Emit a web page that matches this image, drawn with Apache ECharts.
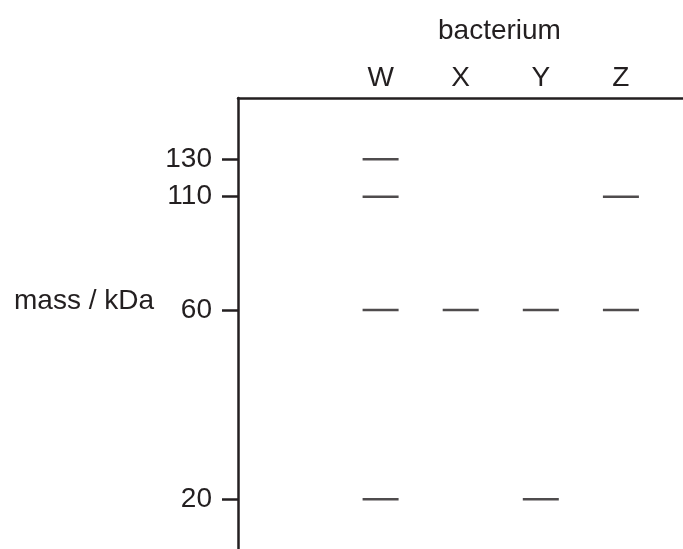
<!DOCTYPE html>
<html>
<head>
<meta charset="utf-8">
<script src="https://cdn.jsdelivr.net/npm/echarts@6/dist/echarts.min.js"></script>
<style>
html,body{margin:0;padding:0;background:#fff;}
#chart{width:683px;height:549px;}
</style>
</head>
<body>
<div id="chart"></div>
<script>
// Lanes (bacteria)
var lanes = ['W', 'X', 'Y', 'Z'];
// Marker masses (kDa) shown on the axis
var masses = [130, 110, 60, 20];
// Migration distance of each marker band from the top of the gel (arbitrary units)
var migration = [6.13, 9.87, 21.2, 40.13];
// Bands present in each lane (mass in kDa)
var bandsW = [130, 110, 60, 20];
var bandsX = [60];
var bandsY = [60, 20];
var bandsZ = [110, 60];
var gelLength = 45.1;

var laneBands = [bandsW, bandsX, bandsY, bandsZ];
var points = [];
laneBands.forEach(function (list, li) {
  list.forEach(function (m) {
    points.push([li + 1, migration[masses.indexOf(m)]]);
  });
});

var ink = '#231f20';
var font = 'Liberation Sans, Arial, Helvetica, sans-serif';

var chart = echarts.init(document.getElementById('chart'), null, {renderer: 'canvas'});
chart.setOption({
  animation: false,
  backgroundColor: '#fff',
  grid: {left: 238, right: 0, top: 98, bottom: 0, containLabel: false},
  xAxis: {
    type: 'value',
    position: 'top',
    min: -0.78,
    max: 4.775,
    splitLine: {show: false},
    axisLine: {show: true, onZero: false, lineStyle: {color: ink, width: 2.5}},
    axisTick: {show: false},
    axisLabel: {
      show: true,
      customValues: [1, 2, 3, 4],
      formatter: function (v) { return lanes[Math.round(v) - 1] || ''; },
      color: ink, fontSize: 28, fontFamily: font, margin: 6
    }
  },
  yAxis: {
    type: 'value',
    inverse: true,
    min: 0,
    max: gelLength,
    splitLine: {show: false},
    axisLine: {show: true, onZero: false, lineStyle: {color: ink, width: 2.5}},
    axisTick: {
      show: true, inside: false, length: 16,
      customValues: migration,
      lineStyle: {color: ink, width: 2.5}
    },
    axisLabel: {
      show: true,
      customValues: migration,
      formatter: function (v) {
        var i = migration.indexOf(v);
        return i >= 0 ? String(masses[i]) : '';
      },
      color: ink, fontSize: 28, fontFamily: font, margin: 26
    }
  },
  graphic: [
    {type: 'text', left: 438, top: 17, style: {text: 'bacterium', fill: ink, font: '28px ' + font}},
    {type: 'text', left: 14, top: 287, style: {text: 'mass / kDa', fill: ink, font: '28px ' + font}}
  ],
  series: [{
    type: 'scatter',
    data: points,
    symbol: 'rect',
    symbolSize: [36, 2.5],
    itemStyle: {color: ink},
    silent: true
  }]
});
</script>
</body>
</html>
